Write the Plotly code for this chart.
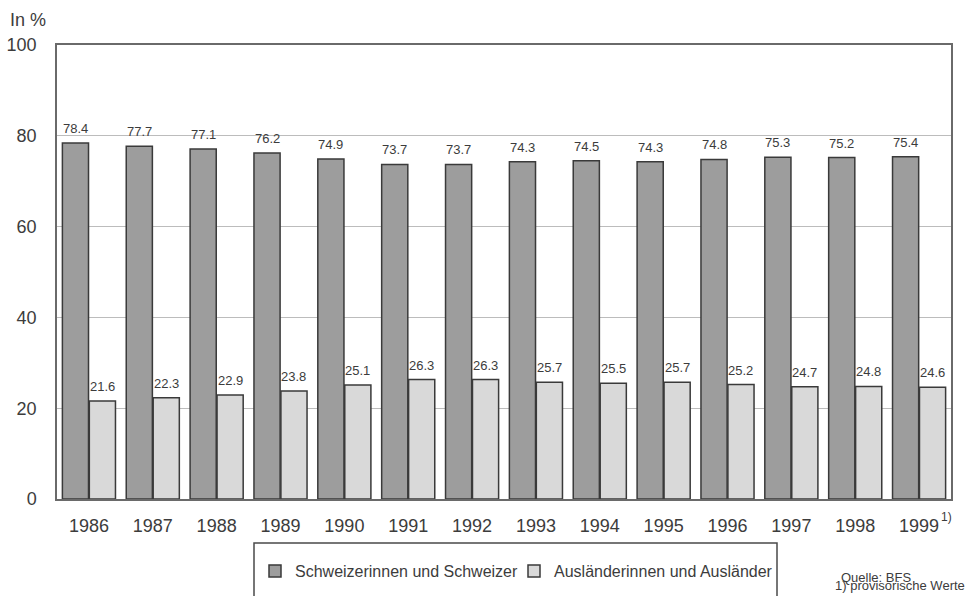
import plotly.graph_objects as go

years = ["1986", "1987", "1988", "1989", "1990", "1991", "1992",
         "1993", "1994", "1995", "1996", "1997", "1998", "1999"]
schweizer = [78.4, 77.7, 77.1, 76.2, 74.9, 73.7, 73.7, 74.3, 74.5, 74.3, 74.8, 75.3, 75.2, 75.4]
auslaender = [21.6, 22.3, 22.9, 23.8, 25.1, 26.3, 26.3, 25.7, 25.5, 25.7, 25.2, 24.7, 24.8, 24.6]
series_names = ["Schweizerinnen und Schweizer", "Ausländerinnen und Ausländer"]
y_ticks = [0, 20, 40, 60, 80, 100]

FONT = "Liberation Sans, Arial, sans-serif"
TXT = "#3c3c3c"
W, H = 968, 596
L, R, T, B = 57, 17, 45, 97
PW, PH = W - L - R, H - T - B


def px_x(x):
    return (x - L) / PW


def px_y(y):
    return (H - B - y) / PH


fig = go.Figure()
fig.add_trace(go.Bar(x=years, y=schweizer, name=series_names[0],
                     marker=dict(color="#9d9d9d", line=dict(color="#3a3a3a", width=1.5))))
fig.add_trace(go.Bar(x=years, y=auslaender, name=series_names[1],
                     marker=dict(color="#d9d9d9", line=dict(color="#3a3a3a", width=1.5))))

annotations = []
shift = PW / len(years) * (1 - 0.156) / 4
for i, (a, b) in enumerate(zip(schweizer, auslaender)):
    annotations.append(dict(x=i, y=a, xref="x", yref="y", text=f"{a:.1f}", showarrow=False,
                            xshift=-shift, yanchor="bottom", yshift=5,
                            font=dict(size=13, color=TXT, family=FONT)))
    annotations.append(dict(x=i, y=b, xref="x", yref="y", text=f"{b:.1f}", showarrow=False,
                            xshift=shift, yanchor="bottom", yshift=5,
                            font=dict(size=13, color=TXT, family=FONT)))

# superscript footnote on 1999 tick
annotations.append(dict(x=len(years) - 1, y=0, xref="x", yref="y", text="1)", showarrow=False,
                        xshift=27, yanchor="top", yshift=-9, xanchor="center",
                        font=dict(size=12, color=TXT, family=FONT)))
annotations.append(dict(x=px_x(8), y=px_y(20), xref="paper", yref="paper", text="In %",
                        showarrow=False, xanchor="left", yanchor="middle",
                        font=dict(size=18, color=TXT, family=FONT)))
annotations.append(dict(x=px_x(839), y=px_y(577), xref="paper", yref="paper", text="Quelle: BFS",
                        showarrow=False, xanchor="left", yanchor="middle",
                        font=dict(size=13, color=TXT, family=FONT)))
annotations.append(dict(x=px_x(833), y=px_y(585), xref="paper", yref="paper",
                        text="1) provisorische Werte", showarrow=False, xanchor="left",
                        yanchor="middle", font=dict(size=13, color=TXT, family=FONT)))

fig.update_layout(
    width=W, height=H,
    margin=dict(l=L, r=R, t=T, b=B, autoexpand=False),
    paper_bgcolor="white", plot_bgcolor="white",
    barmode="group", bargap=0.156, bargroupgap=0.03,
    font=dict(family=FONT, color=TXT),
    showlegend=True,
    legend=dict(orientation="h", x=px_x(255), y=px_y(571), xanchor="left", yanchor="middle",
                font=dict(size=16, color=TXT, family=FONT), bgcolor="rgba(0,0,0,0)",
                borderwidth=0, traceorder="normal", itemwidth=30, entrywidth=214),
    annotations=annotations,
    shapes=[dict(type="rect", xref="paper", yref="paper",
                 x0=px_x(254), x1=px_x(777), y0=px_y(543), y1=px_y(605),
                 line=dict(color="#4a4a4a", width=1.5), fillcolor="rgba(0,0,0,0)")],
)
fig.update_xaxes(type="category", range=[-0.5, len(years) - 0.5], showline=True, mirror=True,
                 linecolor="#6a6a6a", linewidth=1.5, automargin=False,
                 showgrid=False, ticks="", tickfont=dict(size=18, color=TXT, family=FONT),
                 ticklabelstandoff=10)
fig.update_yaxes(range=[0, 100], tickvals=y_ticks, showline=True, mirror=True, automargin=False,
                 linecolor="#6a6a6a", linewidth=1.5, showgrid=True, gridcolor="#bcbcbc",
                 gridwidth=1, zeroline=False, ticks="", tickfont=dict(size=18, color=TXT, family=FONT),
                 ticklabelstandoff=15)

fig.write_html("out.html")
